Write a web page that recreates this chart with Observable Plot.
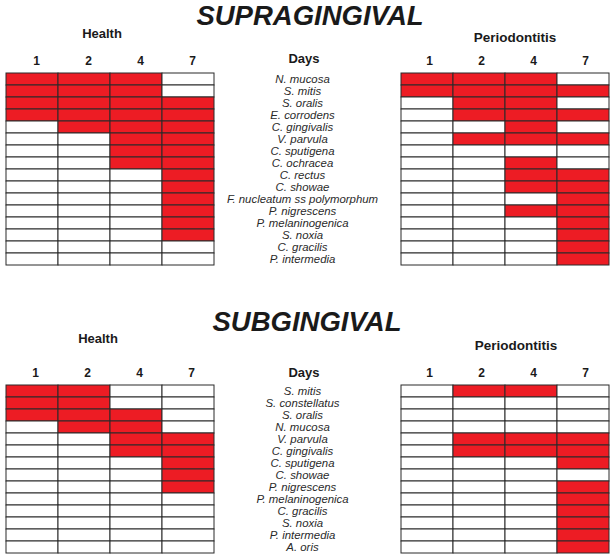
<!DOCTYPE html>
<html><head><meta charset="utf-8">
<script src="https://cdn.jsdelivr.net/npm/d3@7"></script>
<script src="https://cdn.jsdelivr.net/npm/@observablehq/plot@0.6"></script>
<style>
body{margin:0;background:#fff;}
#chart{position:relative;width:615px;height:559px;font-family:"Liberation Sans",Arial,sans-serif;color:#1a1a1a;overflow:hidden;}
.t{position:absolute;line-height:1;white-space:nowrap;transform:translateX(-50%);font-weight:bold;}
.p{position:absolute;}
.p svg{background:transparent !important;}
</style></head><body><div id="chart"></div>
<script>
const days = ["1", "2", "4", "7"];

const supraSpecies = ["N. mucosa", "S. mitis", "S. oralis", "E. corrodens", "C. gingivalis", "V. parvula",
  "C. sputigena", "C. ochracea", "C. rectus", "C. showae", "F. nucleatum ss polymorphum", "P. nigrescens",
  "P. melaninogenica", "S. noxia", "C. gracilis", "P. intermedia"];
const supraHealth = [
  [1,1,1,0],[1,1,1,0],[1,1,1,1],[1,1,1,1],[0,1,1,1],[0,0,1,1],[0,0,1,1],[0,0,1,1],
  [0,0,0,1],[0,0,0,1],[0,0,0,1],[0,0,0,1],[0,0,0,1],[0,0,0,1],[0,0,0,0],[0,0,0,0]];
const supraPerio = [
  [1,1,1,0],[1,1,1,1],[0,1,1,0],[0,1,1,1],[0,0,1,0],[0,1,1,1],[0,0,0,0],[0,0,1,0],
  [0,0,1,1],[0,0,1,1],[0,0,0,1],[0,0,1,1],[0,0,0,1],[0,0,0,1],[0,0,0,1],[0,0,0,1]];

const subSpecies = ["S. mitis", "S. constellatus", "S. oralis", "N. mucosa", "V. parvula", "C. gingivalis",
  "C. sputigena", "C. showae", "P. nigrescens", "P. melaninogenica", "C. gracilis", "S. noxia",
  "P. intermedia", "A. oris"];
const subHealth = [
  [1,1,0,0],[1,1,0,0],[1,1,1,0],[0,1,1,0],[0,0,1,1],[0,0,1,1],[0,0,0,1],
  [0,0,0,1],[0,0,0,1],[0,0,0,0],[0,0,0,0],[0,0,0,0],[0,0,0,0],[0,0,0,0]];
const subPerio = [
  [0,1,1,0],[0,0,0,0],[0,0,0,0],[0,0,0,0],[0,1,1,1],[0,1,1,1],[0,0,0,1],
  [0,0,0,0],[0,0,0,1],[0,0,0,1],[0,0,0,1],[0,0,0,1],[0,0,0,1],[0,0,0,1]];

const sections = ["SUPRAGINGIVAL", "SUBGINGIVAL"];
const groups = ["Health", "Periodontitis"];
const axisName = "Days";

const chart = document.getElementById("chart");
const RED = "#ed1c24", LINE = "#2a2a2a";
const ROW = 12, MT = 24;

function place(node, left, top) {
  const d = document.createElement("div");
  d.className = "p"; d.style.left = left + "px"; d.style.top = top + "px";
  d.appendChild(node); chart.appendChild(d);
}
function title(text, cx, baseline, size, italic) {
  const d = document.createElement("div");
  d.className = "t"; d.textContent = text;
  d.style.fontSize = size + "px";
  d.style.left = cx + "px";
  d.style.top = (baseline - 0.8465 * size) + "px";
  if (italic) d.style.fontStyle = "italic";
  chart.appendChild(d);
}
function grid(species, values, dx) {
  const data = species.flatMap((s, i) => days.map((d, j) => ({species: s, day: d, present: values[i][j]})));
  return Plot.plot({
    width: 212, height: MT + species.length * ROW + 1,
    marginLeft: 1, marginRight: 1, marginTop: MT, marginBottom: 1,
    style: {fontFamily: "'Liberation Sans', Arial, sans-serif", color: "#1a1a1a", background: "transparent"},
    x: {domain: days, padding: 0, axis: null},
    y: {domain: species, padding: 0, axis: null},
    color: {type: "ordinal", domain: [0, 1], range: ["#ffffff", RED]},
    marks: [
      Plot.cell(data, {x: "day", y: "species", fill: "present", stroke: LINE, strokeWidth: 1}),
      Plot.axisX({anchor: "top", tickSize: 0, tickPadding: 9, fontSize: 12, fontWeight: "bold", dx, label: null})
    ]
  });
}
function labels(species) {
  return Plot.plot({
    width: 184, height: MT + species.length * ROW + 1,
    marginLeft: 0, marginRight: 0, marginTop: MT, marginBottom: 1,
    style: {fontFamily: "'Liberation Sans', Arial, sans-serif", color: "#1a1a1a", background: "transparent"},
    y: {domain: species, padding: 0, axis: null},
    marks: [
      Plot.text(species, {y: d => d, text: d => d, frameAnchor: "middle", fontStyle: "italic", fontSize: 11.4, dx: -5, fill: "#2a2a2a"})
    ]
  });
}

// Supragingival
title(sections[0], 310, 25, 27.5, true);
title(groups[0], 102, 38, 13);
title(groups[1], 515, 42.3, 13.5);
title(axisName, 304, 63, 13);
place(grid(supraSpecies, supraHealth, 4), 4, 72.5 - MT);
place(labels(supraSpecies), 215, 72.5 - MT);
place(grid(supraSpecies, supraPerio, 2), 398.5, 72.5 - MT);

// Subgingival
title(sections[1], 307, 331, 27.5, true);
title(groups[0], 98, 343.5, 13);
title(groups[1], 516, 350, 13.5);
title(axisName, 304, 377, 13);
place(grid(subSpecies, subHealth, 3), 4, 385 - MT);
place(labels(subSpecies), 215, 385 - MT);
place(grid(subSpecies, subPerio, 2), 398.5, 385 - MT);
</script></body></html>
